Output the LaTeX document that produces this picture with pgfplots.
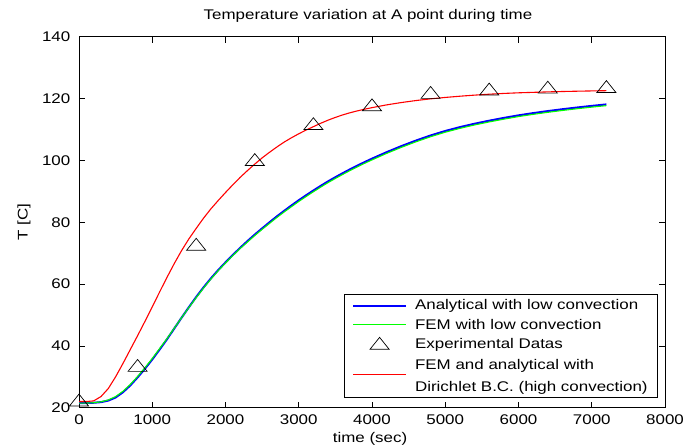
\documentclass[border=0pt]{standalone}
\usepackage{pgfplots}
\pgfplotsset{compat=1.18}
\usepackage{fontspec}
\setmainfont{Liberation Sans}[FakeStretch=1.21]
\definecolor{mblue}{rgb}{0,0,1}
\definecolor{mgreen}{rgb}{0,1,0}
\definecolor{mred}{rgb}{1,0,0}

\begin{document}
\begin{tikzpicture}
\path[use as bounding box] (0,0) rectangle (683bp,447bp);
\begin{axis}[
    at={(79bp,39.3bp)}, anchor=south west,
    scale only axis,
    width=586bp, height=371bp,
    xmin=0, xmax=8000, ymin=20, ymax=140,
    xtick={0,1000,...,8000},
    ytick={20,40,...,140},
    scaled x ticks=false,
    /pgf/number format/set thousands separator={},
    /pgf/number format/assume math mode=true,
    tick pos=both, tick align=inside,
    major tick length=6bp,
    every tick/.style={black, line width=0.7bp},
    axis line style={black, line width=0.8bp},
    font=\fontsize{14bp}{17bp}\selectfont,
    ticklabel style={font=\fontsize{14bp}{17bp}\selectfont, inner sep=0pt},
    xticklabel style={anchor=north, yshift=-7.3bp},
    yticklabel style={anchor=east, xshift=-8.5bp},
    title={Temperature variation at A point during time},
    title style={at={(axis description cs:0.5,1)}, anchor=base, yshift=11.7bp, xshift=-4bp, inner sep=0pt},
    xlabel={time (sec)},
    every axis x label/.style={at={(axis description cs:0.5,0)}, anchor=north, yshift=-24.5bp, xshift=-2bp, inner sep=0pt},
    ylabel={T [C]},
    every axis y label/.style={at={(axis description cs:-0.0939,0.5)}, rotate=90, anchor=center, inner sep=0pt},
    clip=false,
    legend image code/.code={\draw[mark repeat=2,mark phase=2,#1] plot coordinates {(0bp,0bp) (26.5bp,0bp) (53bp,0bp)};},
    legend cell align=left,
    legend style={at={(axis description cs:0.988,0.026)}, anchor=south east,
        draw=black, line width=0.7bp, inner xsep=8bp, inner ysep=3bp,
        row sep=3.5bp,
        font=\fontsize{14bp}{18.3bp}\selectfont,
        /tikz/every odd column/.append style={column sep=6bp}},
]

% Analytical with low convection
\addplot[draw=mblue, line width=2bp] coordinates {
    (0,21.5) (100,21.5) (200,21.6) (300,21.8) (400,22.3) (500,23.3) (600,25.0)
    (700,27.2) (800,29.8) (900,32.6) (1000,35.6) (1100,38.8) (1200,42.1)
    (1300,45.6) (1400,49.1) (1500,52.5) (1600,55.8) (1700,58.9) (1800,61.8)
    (1900,64.5) (2000,67.0) (2100,69.4) (2200,71.7) (2300,73.9) (2400,76.0)
    (2500,78.0) (2600,79.95) (2700,81.85) (2800,83.65) (2900,85.4) (3000,87.1)
    (3100,88.7) (3200,90.25) (3300,91.75) (3400,93.2) (3500,94.55) (3600,95.85)
    (3700,97.1) (3800,98.3) (3900,99.45) (4000,100.55) (4200,102.65) (4400,104.6)
    (4600,106.4) (4800,108.05) (5000,109.5) (5200,110.75) (5400,111.85)
    (5600,112.83) (5800,113.73) (6000,114.56) (6200,115.28) (6400,115.94)
    (6600,116.54) (6800,117.1) (7000,117.62) (7200,118.1)
};

% FEM with low convection
\addplot[draw=mgreen, line width=1.1bp] coordinates {
    (0,21.5) (100,21.5) (200,21.6) (300,21.9) (400,22.5) (500,23.6) (600,25.3)
    (700,27.5) (800,30.1) (900,32.9) (1000,35.9) (1100,39.1) (1200,42.3)
    (1300,45.7) (1400,49.1) (1500,52.4) (1600,55.6) (1700,58.7) (1800,61.6)
    (1900,64.3) (2000,66.8) (2100,69.2) (2200,71.5) (2300,73.6) (2400,75.7)
    (2500,77.7) (2600,79.6) (2700,81.5) (2800,83.3) (2900,85.0) (3000,86.7)
    (3100,88.3) (3200,89.85) (3300,91.35) (3400,92.8) (3500,94.15) (3600,95.45)
    (3700,96.7) (3800,97.9) (3900,99.05) (4000,100.15) (4200,102.25) (4400,104.2)
    (4600,106.0) (4800,107.65) (5000,109.1) (5200,110.35) (5400,111.45)
    (5600,112.43) (5800,113.33) (6000,114.16) (6200,114.88) (6400,115.54)
    (6600,116.14) (6800,116.7) (7000,117.22) (7200,117.7)
};

% Experimental data
\addplot[only marks, draw=black, mark=triangle, mark size=11bp,
    mark options={draw=black, line width=0.7bp, yscale=0.72, yshift=-2bp}] coordinates {
    (0,22.3) (800,33.5) (1600,72.7) (2400,100.1) (3200,111.7)
    (4000,117.8) (4800,121.8) (5600,122.9) (6400,123.5) (7200,123.7)
};

% FEM and analytical, Dirichlet B.C.
\addplot[draw=mred, line width=1.1bp] coordinates {
    (0,22.0) (100,22.0) (200,22.2) (300,23.6) (400,26.2) (500,30.0) (600,34.3)
    (700,38.8) (800,43.3) (900,47.9) (1000,52.6) (1100,57.4) (1200,62.1)
    (1300,66.6) (1400,70.8) (1500,74.6) (1600,78.0) (1700,81.3) (1800,84.3)
    (1900,87.0) (2000,89.6) (2100,92.1) (2200,94.5) (2300,96.7) (2400,98.8)
    (2500,100.8) (2600,102.6) (2700,104.3) (2800,105.9) (2900,107.3) (3000,108.6)
    (3100,109.8) (3200,110.9) (3300,112.0) (3400,113.0) (3500,113.9) (3600,114.7)
    (3700,115.4) (3800,116.0) (3900,116.55) (4000,117.05) (4200,117.95)
    (4400,118.7) (4600,119.35) (4800,119.9) (5000,120.35) (5200,120.75)
    (5400,121.1) (5600,121.4) (5800,121.65) (6000,121.85) (6200,122.0)
    (6400,122.15) (6600,122.27) (6800,122.37) (7000,122.46) (7200,122.54)
};

\legend{Analytical with low convection, FEM with low convection, Experimental Datas,
    {\shortstack[l]{\strut FEM and analytical with\\\strut Dirichlet B.C. (high convection)}}}
\end{axis}
\end{tikzpicture}
\end{document}
